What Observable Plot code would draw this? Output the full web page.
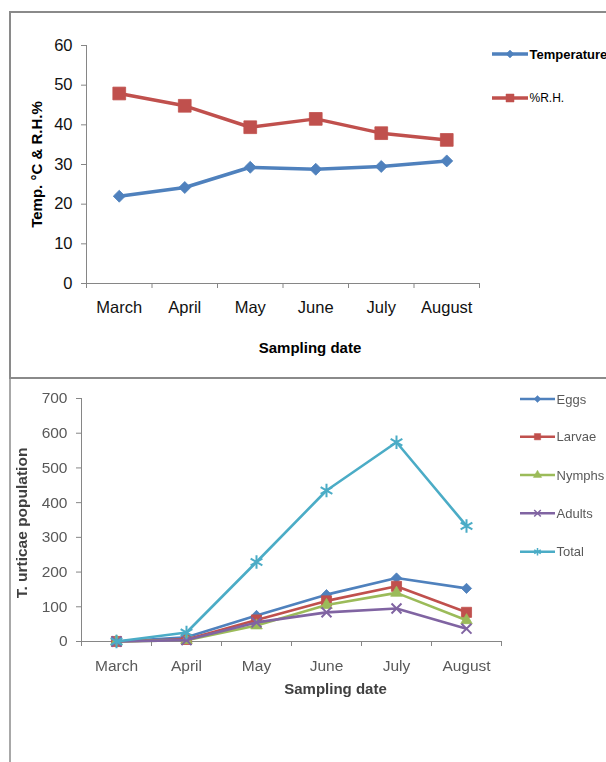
<!DOCTYPE html>
<html>
<head>
<meta charset="utf-8">
<script src="https://cdn.jsdelivr.net/npm/d3@7"></script>
<script src="https://cdn.jsdelivr.net/npm/@observablehq/plot@0.6"></script>
<style>
  html, body { margin: 0; padding: 0; background: #fff; }
  #page { position: relative; width: 606px; height: 762px; overflow: hidden; background: #fff; }
  .frame { position: absolute; box-sizing: border-box; }
  #frameTop { left: 9px; top: 11px; width: 700px; height: 368px; border: 2px solid #8a8a8a; }
  #frameBottom { left: 9px; top: 379px; width: 700px; height: 400px; border-left: 2px solid #a8a8a8; }
  .layer { position: absolute; left: 0; }
  .layer svg { position: absolute; left: 0; top: 0; }
  #bottomPanel { filter: blur(0.65px); }
</style>
</head>
<body>
<div id="page">
  <div class="frame" id="frameTop"></div>
  <div class="frame" id="frameBottom"></div>
  <div class="layer" id="topPanel" style="top:0;width:606px;height:378px"></div>
  <div class="layer" id="bottomPanel" style="top:378px;width:606px;height:384px"></div>
</div>
<script>
// Sampling months shared by both charts
const months = ["March", "April", "May", "June", "July", "August"];

// Weather: mean temperature (°C) and relative humidity (%)
const temperature = [22, 24.2, 29.3, 28.8, 29.5, 30.9];
const humidity = [47.9, 44.8, 39.4, 41.5, 37.9, 36.2];
const weatherTicks = [0, 10, 20, 30, 40, 50, 60];

// T. urticae counts per stage
const eggs = [0, 12, 75, 135, 183, 153];
const larvae = [0, 6, 62, 117, 159, 84];
const nymphs = [0, 4, 46, 105, 140, 61];
const adults = [0, 4, 55, 84, 95, 37];
const total = [0, 26, 229, 435, 574, 333];
const populationTicks = [0, 100, 200, 300, 400, 500, 600, 700];

const FONT = '"Liberation Sans", Arial, sans-serif';
const AXIS = "#868686";

// Each month sits in the middle of its slot on a 0..n linear scale
const rows = (values) => values.map((v, i) => ({month: months[i], x: i + 0.5, v}));
const slotEdges = d3.range(months.length + 1);
const slotMids = months.map((_, i) => i + 0.5);

function series(values, color, symbol, r, width, stroked) {
  const data = rows(values);
  return [
    Plot.line(data, {x: "x", y: "v", stroke: color, strokeWidth: width}),
    stroked
      ? Plot.dot(data, {x: "x", y: "v", symbol, r, fill: "none", stroke: color, strokeWidth: 2})
      : Plot.dot(data, {x: "x", y: "v", symbol, r, fill: color, stroke: color, strokeWidth: 0.8})
  ];
}

function axes(yTicks, textColor, fontSize) {
  return [
    Plot.ruleX([0], {stroke: AXIS}),
    Plot.ruleY([0], {stroke: AXIS}),
    Plot.axisY({ticks: yTicks, tickSize: 5, tickPadding: 9, stroke: AXIS, fill: textColor, fontSize, label: null}),
    Plot.axisX({ticks: slotEdges, tickSize: 5, tickFormat: () => "", stroke: AXIS, label: null}),
    Plot.axisX({ticks: slotMids, tickSize: 0, tickPadding: 18, tickFormat: (d) => months[Math.floor(d)],
      fill: textColor, fontSize, label: null})
  ];
}

// Legend: a short line with the series marker, followed by its name
function legend(container, width, height, items) {
  const svg = d3.select(container).append("svg")
    .attr("width", width).attr("height", height)
    .style("font-family", FONT);
  for (const it of items) {
    const g = svg.append("g");
    g.append("line").attr("x1", it.x0).attr("x2", it.x1).attr("y1", it.y).attr("y2", it.y)
      .attr("stroke", it.color).attr("stroke-width", it.width);
    const path = d3.symbol(it.symbol, it.size)();
    g.append("path").attr("d", path)
      .attr("transform", `translate(${(it.x0 + it.x1) / 2},${it.y})`)
      .attr("fill", it.stroked ? "none" : it.color)
      .attr("stroke", it.color).attr("stroke-width", it.stroked ? 1.5 : 0.5);
    g.append("text").attr("x", it.x1 + 1.5).attr("y", it.y).attr("dy", "0.35em")
      .attr("font-size", it.fontSize).attr("font-weight", it.fontWeight)
      .attr("fill", it.textColor).text(it.label);
  }
}

// ---- Temperature and relative humidity ----
const blue = "#4f81bd", red = "#c0504d", green = "#9bbb59", purple = "#8064a2", cyan = "#4bacc6";

const weather = Plot.plot({
  width: 606, height: 378,
  marginTop: 45, marginBottom: 95, marginLeft: 86, marginRight: 127,
  style: {fontFamily: FONT, fontSize: "16.5px", color: "#000", background: "transparent", overflow: "visible"},
  x: {domain: [0, months.length]},
  y: {domain: [0, 60]},
  marks: [
    ...axes(weatherTicks, "#111", 16.5),
    ...series(temperature, blue, "diamond2", 5.4, 3.5, false),
    ...series(humidity, red, "square", 7.2, 3.5, false),
    Plot.text(["Temp. °C & R.H.%"], {text: (d) => d, frameAnchor: "left", textAnchor: "middle", rotate: -90, dx: -49,
      fontWeight: "bold", fontSize: 15, fill: "#000"}),
    Plot.text(["Sampling date"], {text: (d) => d, frameAnchor: "bottom", textAnchor: "middle", dx: 27, dy: 69,
      fontWeight: "bold", fontSize: 15, fill: "#000"})
  ]
});
document.getElementById("topPanel").append(weather);
legend(document.getElementById("topPanel"), 606, 378, [
  {label: "Temperature", color: blue, symbol: d3.symbolDiamond2, size: 40, stroked: false,
    x0: 492, x1: 528, y: 54, width: 3.5, fontSize: 13, fontWeight: "bold", textColor: "#000"},
  {label: "%R.H.", color: red, symbol: d3.symbolSquare, size: 64, stroked: false,
    x0: 492, x1: 528, y: 98, width: 3.5, fontSize: 12, fontWeight: "normal", textColor: "#000"}
]);

// ---- T. urticae population ----
const population = Plot.plot({
  width: 606, height: 384,
  marginTop: 20, marginBottom: 121, marginLeft: 81, marginRight: 105,
  style: {fontFamily: FONT, fontSize: "16px", color: "#595959", background: "transparent", overflow: "visible"},
  x: {domain: [0, months.length]},
  y: {domain: [0, 700]},
  marks: [
    ...axes(populationTicks, "#595959", 15.5),
    ...series(eggs, blue, "diamond2", 4.6, 2.6, false),
    ...series(larvae, red, "square", 5.7, 2.6, false),
    ...series(nymphs, green, "triangle", 4.3, 2.6, false),
    ...series(adults, purple, "times", 4.6, 2.6, true),
    ...series(total, cyan, "asterisk", 6.4, 2.6, true),
    Plot.text(["T. urticae population"], {text: (d) => d, frameAnchor: "left", textAnchor: "middle", rotate: -90, dx: -59, dy: 3,
      fontWeight: "bold", fontSize: 15.5, fill: "#404040"}),
    Plot.text(["Sampling date"], {text: (d) => d, frameAnchor: "bottom", textAnchor: "middle", dx: 44, dy: 52,
      fontWeight: "bold", fontSize: 15, fill: "#404040"})
  ]
});
document.getElementById("bottomPanel").append(population);
const stageLegend = [
  ["Eggs", blue, d3.symbolDiamond2, 30, false, 21],
  ["Larvae", red, d3.symbolSquare, 40, false, 58.7],
  ["Nymphs", green, d3.symbolTriangle, 30, false, 97],
  ["Adults", purple, d3.symbolTimes, 30, true, 135.3],
  ["Total", cyan, d3.symbolAsterisk, 40, true, 173.7]
];
legend(document.getElementById("bottomPanel"), 606, 384, stageLegend.map(([label, color, symbol, size, stroked, y]) => ({
  label, color, symbol, size, stroked, y,
  x0: 520, x1: 555, width: 2.6, fontSize: 13, fontWeight: "normal", textColor: "#595959"
})));
</script>
</body>
</html>
